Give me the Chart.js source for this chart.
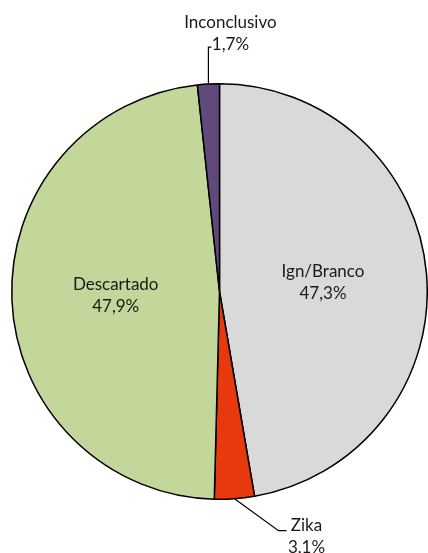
<!DOCTYPE html>
<html>
<head>
<meta charset="utf-8">
<script src="https://cdn.jsdelivr.net/npm/chart.js@4/dist/chart.umd.min.js"></script>
<style>
  html, body { margin: 0; padding: 0; background: #fff; }
  #wrap { width: 428px; height: 553px; }
</style>
</head>
<body>
<div id="wrap"><canvas id="pieChart" width="428" height="553"></canvas></div>
<script>
// Classificação dos casos
const categories = ['Ign/Branco', 'Zika', 'Descartado', 'Inconclusivo'];
const percentages = [47.3, 3.1, 47.9, 1.7];
const sliceColors = ['#d9d9d9', '#e8390e', '#c4d79b', '#604a7b'];

// label placement per slice: inside, or outside with a leader line
const labelModes = ['inside', 'outside', 'inside', 'outside'];
const leaderOffsets = [null, { dx: 44, dy: 32, tail: 8, textDx: 28, textDy: -5 }, null, { dx: 0, dy: -37, tail: 3, textDx: 22, textDy: -3 }];

const FONT = '17px Lato, "Liberation Sans", sans-serif';
const LINE_H = 22;

function fmtPct(v) {
  return v.toFixed(1).replace('.', ',') + '%';
}

const pieLabels = {
  id: 'pieLabels',
  afterDatasetsDraw(chart) {
    const ctx = chart.ctx;
    const meta = chart.getDatasetMeta(0);
    ctx.save();
    ctx.font = FONT;
    ctx.fillStyle = '#1a1a1a';
    ctx.textAlign = 'center';
    ctx.textBaseline = 'middle';
    meta.data.forEach((arc, i) => {
      const { x, y, startAngle, endAngle, outerRadius } = arc.getProps(['x', 'y', 'startAngle', 'endAngle', 'outerRadius'], true);
      const mid = (startAngle + endAngle) / 2;
      const name = categories[i];
      const pct = fmtPct(percentages[i]);
      if (labelModes[i] === 'inside') {
        const r = outerRadius * 0.5;
        const cx = x + Math.cos(mid) * r;
        const cy = y + Math.sin(mid) * r;
        ctx.fillText(name, cx, cy - LINE_H / 2);
        ctx.fillText(pct, cx, cy + LINE_H / 2);
      } else {
        const o = leaderOffsets[i];
        const ex = x + Math.cos(mid) * outerRadius;
        const ey = y + Math.sin(mid) * outerRadius;
        const bx = ex + o.dx;
        const by = ey + o.dy;
        ctx.beginPath();
        ctx.strokeStyle = '#000';
        ctx.lineWidth = 1.2;
        ctx.moveTo(ex, ey);
        ctx.lineTo(bx, by);
        ctx.lineTo(bx + o.tail, by);
        ctx.stroke();
        const tx = bx + o.textDx;
        if (o.dy < 0) {
          ctx.fillText(name, tx, by + o.textDy - LINE_H);
          ctx.fillText(pct, tx, by + o.textDy);
        } else {
          ctx.fillText(name, tx, by + o.textDy);
          ctx.fillText(pct, tx, by + o.textDy + LINE_H);
        }
      }
    });
    ctx.restore();
  }
};

new Chart(document.getElementById('pieChart'), {
  type: 'pie',
  data: {
    labels: categories,
    datasets: [{
      data: percentages,
      backgroundColor: sliceColors,
      borderColor: '#000',
      borderWidth: 1.5
    }]
  },
  options: {
    responsive: false,
    animation: false,
    layout: { padding: { left: 11, right: 0, top: 83, bottom: 53 } },
    plugins: {
      legend: { display: false },
      tooltip: { enabled: false }
    }
  },
  plugins: [pieLabels]
});
</script>
</body>
</html>
